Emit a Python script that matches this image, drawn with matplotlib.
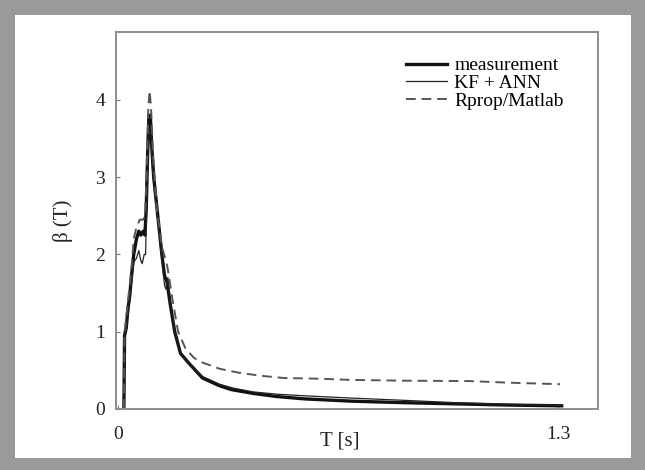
import matplotlib
matplotlib.use('Agg')
import matplotlib.pyplot as plt
from matplotlib.patches import Rectangle

# spectral amplification curves
meas_T = [0.018, 0.02, 0.025, 0.03, 0.035, 0.04, 0.047, 0.055, 0.062, 0.068, 0.075, 0.08,
          0.084, 0.088, 0.092, 0.096, 0.1, 0.106, 0.118, 0.13, 0.138, 0.145, 0.155, 0.168,
          0.185, 0.208, 0.25, 0.3, 0.335, 0.4, 0.47, 0.55, 0.69, 0.85, 1.0, 1.15, 1.31]
meas_b = [0.0, 0.95, 1.05, 1.3, 1.45, 1.7, 2.0, 2.2, 2.3, 2.25, 2.3, 2.25,
          2.6, 3.3, 3.8, 3.8, 3.4, 3.0, 2.5, 2.0, 1.72, 1.65, 1.35, 1.0,
          0.72, 0.6, 0.4, 0.3, 0.25, 0.2, 0.16, 0.13, 0.1, 0.08, 0.065, 0.05, 0.04]

kf_T = [0.018, 0.02, 0.03, 0.04, 0.047, 0.055, 0.062, 0.068, 0.072, 0.078, 0.082, 0.086,
        0.09, 0.094, 0.098, 0.104, 0.118, 0.13, 0.138, 0.142, 0.148, 0.155, 0.168, 0.185,
        0.21, 0.25, 0.3, 0.34, 0.4, 0.47, 0.55, 0.69, 0.85, 1.0, 1.15, 1.31]
kf_b = [0.0, 0.9, 1.2, 1.6, 1.9, 1.95, 2.05, 1.92, 1.88, 2.0, 2.0, 2.8,
        3.5, 3.65, 3.5, 3.0, 2.45, 1.95, 1.6, 1.55, 1.7, 1.4, 1.02, 0.72,
        0.58, 0.42, 0.32, 0.27, 0.22, 0.19, 0.17, 0.14, 0.11, 0.08, 0.06, 0.045]

rp_T = [0.018, 0.02, 0.03, 0.04, 0.047, 0.055, 0.065, 0.075, 0.08, 0.085, 0.09, 0.094,
        0.098, 0.104, 0.115, 0.13, 0.144, 0.15, 0.16, 0.178, 0.2, 0.225, 0.25, 0.3,
        0.355, 0.42, 0.49, 0.6, 0.69, 0.85, 1.04, 1.15, 1.305]
rp_b = [0.0, 1.0, 1.4, 1.8, 2.2, 2.35, 2.45, 2.45, 2.5, 3.0, 3.9, 4.12,
        3.9, 3.3, 2.6, 2.1, 1.89, 1.75, 1.45, 1.0, 0.78, 0.66, 0.6, 0.52,
        0.47, 0.43, 0.4, 0.39, 0.375, 0.365, 0.36, 0.34, 0.32]

y_ticks = [0, 1, 2, 3, 4]
x_ticks = [0, 1.3]
x_ticklabels = ['0', '1.3']

plt.rcParams['font.family'] = ['Liberation Serif', 'DejaVu Serif']

fig = plt.figure(figsize=(6.45, 4.7), dpi=100)
fig.patch.set_facecolor('#9a9a9a')
# white inner card
fig.patches.append(Rectangle((15 / 645, 12 / 470), 616 / 645, 443 / 470,
                             transform=fig.transFigure, facecolor='white',
                             edgecolor='none', zorder=-5))

ax = fig.add_axes([0.18, 0.13, 0.747, 0.802])
ax.set_zorder(2)
ax.plot(meas_T, meas_b, color='#111111', lw=2.4, label='measurement')
ax.plot(kf_T, kf_b, color='#222222', lw=0.9, label='KF + ANN')
ax.plot(rp_T, rp_b, color='#555555', lw=1.4, ls=(0, (5, 3)), label='Rprop/Matlab')

ax.set_xlim(-0.005, 1.417)
ax.set_ylim(0, 4.88)
ax.set_yticks(y_ticks)
ax.set_xticks(x_ticks)
ax.set_xticklabels(x_ticklabels)
ax.tick_params(direction='in', length=3, color='#777777', labelsize=14,
               labelcolor='#222222')
ax.tick_params(axis='y', pad=8)
ax.tick_params(axis='x', pad=12)
for s in ax.spines.values():
    s.set_color('#8c8c8c')
    s.set_linewidth(1.4)

ax.set_xlabel('T [s]', fontsize=15, color='#222222')
ax.xaxis.set_label_coords(0.465, -0.06)
ax.set_ylabel('β (T)', fontsize=15, color='#222222', labelpad=16)

ax.legend(loc='upper left', bbox_to_anchor=(0.585, 0.955), frameon=False,
          fontsize=14, handlelength=2.1, handletextpad=0.4, labelspacing=0.0,
          borderaxespad=0)

plt.savefig('out.png', dpi=100, facecolor=fig.get_facecolor())
